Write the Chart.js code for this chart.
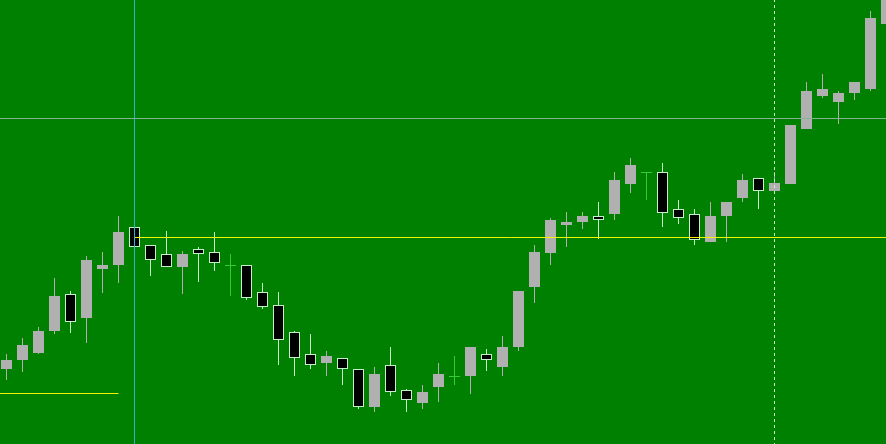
<!DOCTYPE html>
<html>
<head>
<meta charset="utf-8">
<script src="https://cdn.jsdelivr.net/npm/chart.js@4.4.1/dist/chart.umd.min.js"></script>
<style>
  html, body { margin: 0; padding: 0; background: #008000; overflow: hidden; }
  #wrap { width: 886px; height: 444px; position: relative; }
  canvas { display: block; }
</style>
</head>
<body>
<div id="wrap"><canvas id="c" width="886" height="444"></canvas></div>
<script>
// ---- data (price units) ----
const bars  = Array.from({length: 56}, (_, i) => i);
const open  = [75,84,91,113,150,126,175,179,217,199,190,177,195,192,178.5,179,152,139,112,90,81,86,75,37,79,54,41,57,67.5,68,90,77,97,157,191,219,222,228,230,260,271.5,272,235,230,202,228,246,266,253,260,315,348,342,351,355,420];
const high  = [90,106,117,166,153,188,192,228,217,199,213,193,197,212,190,179,161,152,113,110,93,86,75,77,97,55,59,81,88,97,95,108,153,199,226,232,232,242,272,286,272,281,244,235,242,242,270,266,272,319,362,370,353,362,433,455];
const low   = [64,72,90,110,111,101,151,161,197,168,177,150,162,173,148,144,135,79,68,75,68,59,35,32,48,32,35,42,59,50,73,68,93,141,179,197,215,205,224,251,244,217,220,199,202,202,242,235,253,260,315,346,320,344,353,418];
const close = [84,99,113,148,122,184,179,212,197,184,177,190,190,181,178.5,146,137,104,86,79,88,75,37,70,52,44,52,70,67.5,97,84,97,153,192,224,222,228,224,264,279,271.5,231,226,204,228,242,264,253,261,319,353,355,351,362,426,450];

// reference levels
const levelUpper = 325.5;   // grey horizontal level
const levelMid   = 206.5;   // yellow level
const levelLow   = 50.5;    // short yellow level
const markerBar  = 8;       // cyan vertical marker
const dashedBar  = 48;      // dashed vertical marker
const lowLevelEndBar = 7;

// ---- styles ----
const BULL = '#b0b0b0';
const BEAR_FILL = '#000000';
const BEAR_EDGE = '#c4f0cc';
const DOJI = '#32cd32';
const YELLOW = '#f4f400';

const kind = bars.map(i => close[i] > open[i] ? 'bull' : (close[i] < open[i] ? 'bear' : 'doji'));

const wickColors = kind.map(k => k === 'bull' ? BULL : (k === 'bear' ? BEAR_EDGE : DOJI));
const bodyFill   = kind.map(k => k === 'bull' ? BULL : BEAR_FILL);
const bodyEdge   = kind.map(k => k === 'bull' ? BULL : BEAR_EDGE);

const wickData = bars.map(i => ({x: i, y: [low[i], high[i]]}));
const bodyData = bars.map(i => kind[i] === 'doji' ? {x: i, y: null} : {x: i, y: [Math.min(open[i], close[i]), Math.max(open[i], close[i])]});
const dojiData = bars.filter(i => kind[i] === 'doji').map(i => ({x: i, y: open[i]}));

const xMin = -0.40625, xMax = 54.96875;

new Chart(document.getElementById('c'), {
  type: 'bar',
  data: {
    datasets: [
      { type: 'line', order: 0, data: [{x: markerBar, y: -20}, {x: markerBar, y: 470}],
        borderColor: '#30b4c8', borderWidth: 1, pointRadius: 0, fill: false, tension: 0 },
      { type: 'line', order: 0, data: [{x: dashedBar, y: -20}, {x: dashedBar, y: 470}],
        borderColor: '#d0e8d0', borderWidth: 1, borderDash: [3, 3], pointRadius: 0, fill: false, tension: 0 },
      { type: 'line', order: 0, data: [{x: markerBar, y: levelMid}, {x: 60, y: levelMid}],
        borderColor: YELLOW, borderWidth: 1, pointRadius: 0, fill: false, tension: 0 },
      { type: 'line', order: 0, data: [{x: -2, y: levelLow}, {x: lowLevelEndBar, y: levelLow}],
        borderColor: YELLOW, borderWidth: 1, pointRadius: 0, fill: false, tension: 0 },
      { type: 'line', order: 0, data: [{x: -2, y: levelUpper}, {x: 60, y: levelUpper}],
        borderColor: '#84b494', borderWidth: 1, pointRadius: 0, fill: false, tension: 0 },
      { type: 'line', order: 1, data: dojiData, showLine: false,
        pointStyle: 'line', pointRadius: 5.5, pointBorderWidth: 1, pointBorderColor: DOJI, pointBackgroundColor: DOJI },
      { type: 'bar', order: 2, data: bodyData, backgroundColor: bodyFill, borderColor: bodyEdge,
        borderWidth: 1, borderSkipped: false, barThickness: 11, grouped: false, inflateAmount: 0 },
      { type: 'bar', order: 3, data: wickData, backgroundColor: wickColors,
        borderWidth: 0, borderSkipped: false, barThickness: 1, grouped: false, inflateAmount: 0 }
    ]
  },
  options: {
    responsive: false,
    devicePixelRatio: 1,
    animation: false,
    events: [],
    layout: { padding: 0, autoPadding: false },
    plugins: { legend: { display: false }, tooltip: { enabled: false } },
    scales: {
      x: { type: 'linear', display: false, min: xMin, max: xMax, offset: false, grid: { display: false } },
      y: { type: 'linear', display: false, min: 0, max: 444, grid: { display: false } }
    }
  }
});
</script>
</body>
</html>
